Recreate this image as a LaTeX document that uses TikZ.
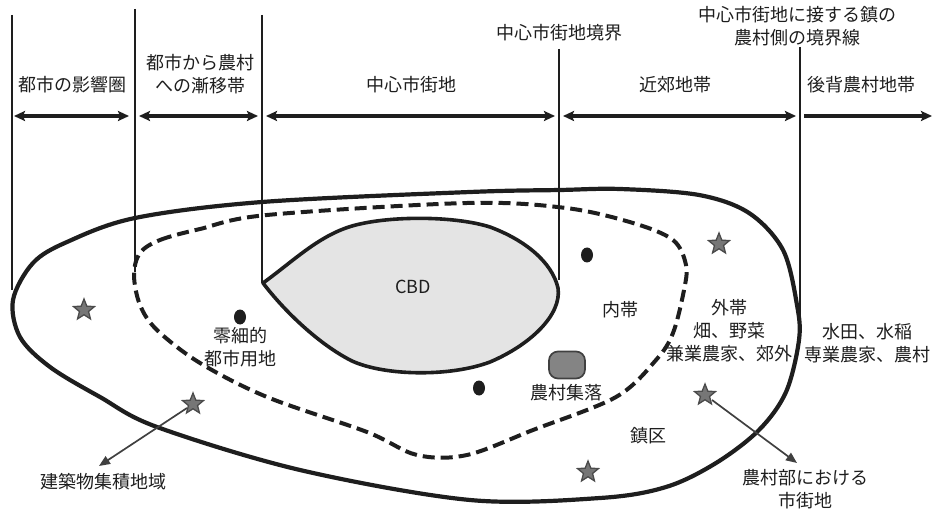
\documentclass[tikz,border=0pt]{standalone}
\usepackage{fontspec}
\setmainfont{Noto Sans CJK JP}
\usetikzlibrary{shapes.geometric,arrows.meta}
\definecolor{ink}{HTML}{1E1E1E}
\definecolor{cbdgray}{HTML}{E4E4E4}
\definecolor{stargray}{HTML}{767676}
\tikzset{
  lbl/.style={inner sep=0pt, align=center, text=ink, font=\fontsize{18}{23}\selectfont},
  vline/.style={draw=ink, line width=2.3pt},
  span/.style={draw=ink, line width=3.2pt, {Stealth[length=11pt,width=10pt,inset=2pt]}-{Stealth[length=11pt,width=10pt,inset=2pt]}},
  rspan/.style={draw=ink, line width=3.2pt, -{Stealth[length=11pt,width=10pt,inset=2pt]}},
  bound/.style={draw=ink, line width=4.2pt},
  dashbound/.style={draw=ink, line width=4pt, dash pattern=on 12pt off 6pt},
  starmark/.style={star, star points=5, star point ratio=2.3, minimum size=22pt, inner sep=0pt, fill=stargray, draw=ink!80, line width=1.3pt},
  dotmark/.style={ellipse, minimum width=12pt, minimum height=15pt, inner sep=0pt, fill=ink, draw=none},
  settle/.style={rectangle, rounded corners=9pt, minimum width=36pt, minimum height=27pt, inner sep=0pt, fill=stargray!90!white, draw=ink!85, line width=1.7pt},
  pointer/.style={draw=ink!85, line width=1.7pt, -{Triangle[length=11pt,width=9pt]}}
}
\begin{document}
\begin{tikzpicture}[x=1pt,y=-1pt]
\useasboundingbox (0,0) rectangle (936,510);

% outer boundary
\draw[bound] plot[smooth cycle, tension=0.55] coordinates {
 (13,300) (20,337) (50,367) (100,397) (157,427) (300,470) (470,500) (600,498)
 (666,487) (716,463) (759,430) (786,392) (799,340) (797,305) (783,250) (749,213)
 (699,195) (620,189) (560,190) (470,192) (262,202) (135,218) (67,242) (33,263)};

% dashed boundary
\draw[dashbound] plot[smooth cycle, tension=0.55] coordinates {
 (140,253) (160,240) (200,229) (267,215) (467,203) (566,208) (633,223) (673,240)
 (686,265) (684,290) (673,333) (656,360) (616,397) (533,430) (467,455) (417,455)
 (367,432) (267,397) (200,363) (157,330) (140,305) (134,275)};

% CBD
\draw[ink, line width=3.6pt, fill=cbdgray, line join=round]
 (263,283) .. controls (295,260) and (322,232) .. (360,224)
 .. controls (395,216) and (455,216) .. (490,227)
 .. controls (525,240) and (552,262) .. (558,288)
 .. controls (562,315) and (530,345) .. (490,362)
 .. controls (450,377) and (385,376) .. (352,361)
 .. controls (320,345) and (285,312) .. (263,283) -- cycle;

% vertical lines
\coordinate (l1t) at (12,15);  \coordinate (l1b) at (12,290);
\coordinate (l2t) at (135,9);  \coordinate (l2b) at (135,272);
\coordinate (l3t) at (262,15); \coordinate (l3b) at (262,283);
\coordinate (l4t) at (559,49); \coordinate (l4b) at (559,280);
\coordinate (l5t) at (800,47); \coordinate (l5b) at (800,340);
\draw[vline] (l1t) -- (l1b);
\draw[vline] (l2t) -- (l2b);
\draw[vline] (l3t) -- (l3b);
\draw[vline] (l4t) -- (l4b);
\draw[vline] (l5t) -- (l5b);

% span arrows
\coordinate (a1) at (14,116);  \coordinate (a2) at (129,116);
\coordinate (a3) at (139,116); \coordinate (a4) at (258,116);
\coordinate (a5) at (266,116); \coordinate (a6) at (555,116);
\coordinate (a7) at (563,116); \coordinate (a8) at (796,116);
\coordinate (a9) at (804,116); \coordinate (a10) at (932,116);
\draw[span] (a1) -- (a2);
\draw[span] (a3) -- (a4);
\draw[span] (a5) -- (a6);
\draw[span] (a7) -- (a8);
\draw[rspan] (a9) -- (a10);

% top labels
\node[lbl] (t1) at (72,85) {都市の影響圏};
\node[lbl] (t2) at (200,74) {都市から農村\\への漸移帯};
\node[lbl] (t3) at (411,85) {中心市街地};
\node[lbl] (t4) at (559,33) {中心市街地境界};
\node[lbl] (t5) at (797,26) {中心市街地に接する鎮の\\農村側の境界線};
\node[lbl] (t6) at (675,85) {近郊地帯};
\node[lbl] (t7) at (861,85) {後背農村地帯};

% inner labels
\node[lbl] (cbd) at (413,287) {CBD};
\node[lbl] (reisai) at (240,347) {零細的\\都市用地};
\node[lbl] (naitai) at (620,310) {内帯};
\node[lbl] (gaitai) at (729,331) {外帯\\畑、野菜\\兼業農家、郊外};
\node[lbl] (suiden) at (867,343) {水田、水稲\\専業農家、農村};
\node[lbl] (noson) at (566,393) {農村集落};
\node[lbl] (chinku) at (648,436) {鎮区};
\node[lbl] (kenchiku) at (103,482) {建築物集積地域};
\node[lbl] (shigai) at (805,489) {農村部における\\市街地};

% markers
\node[starmark] (s1) at (84,310) {};
\node[starmark] (s2) at (193,404) {};
\node[starmark] (s3) at (719,244) {};
\node[starmark] (s4) at (705,395) {};
\node[starmark] (s5) at (588,472) {};
\node[dotmark] (d1) at (240,317) {};
\node[dotmark] (d2) at (587,255) {};
\node[dotmark] (d3) at (479,388) {};
\node[settle] (v1) at (567,365) {};

% pointers
\coordinate (p1) at (99,466);
\coordinate (p2) at (797,463);
\draw[pointer] (s2.center) ++(-6,4) coordinate (s2o) (s2o) -- (p1);
\draw[pointer] (s4.center) ++(7,5) coordinate (s4o) (s4o) -- (p2);
\end{tikzpicture}
\end{document}
